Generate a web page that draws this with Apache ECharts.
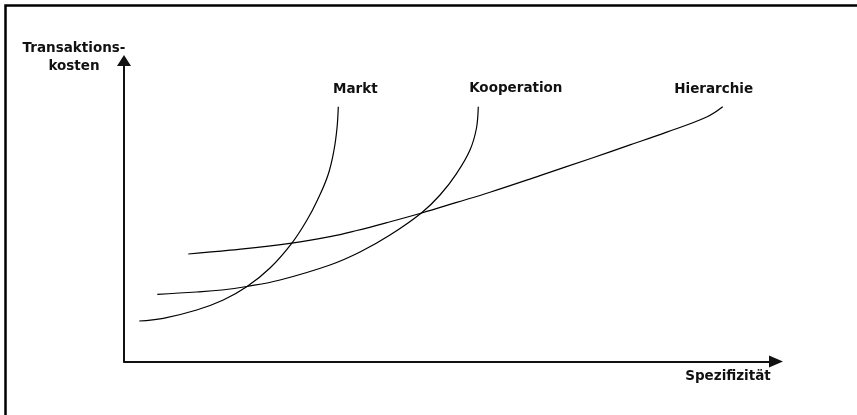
<!DOCTYPE html>
<html>
<head>
<meta charset="utf-8">
<script src="https://cdn.jsdelivr.net/npm/echarts@6/dist/echarts.min.js"></script>
<style>
  html, body { margin: 0; padding: 0; background: #fff; }
  #chart { width: 857px; height: 415px; }
</style>
</head>
<body>
<div id="chart"></div>
<script>
// Series names (curve labels)
const seriesNames = ['Markt', 'Kooperation', 'Hierarchie'];
// Axis titles
const yAxisTitle = 'Transaktions-\nkosten';
const xAxisTitle = 'Spezifizität';

// Curves, in arbitrary units [Spezifizität, Transaktionskosten]
const marktData = [
  [15.3, 40.5], [39.3, 43.2], [72.7, 51.5], [99.3, 61.5], [122.7, 74.7],
  [146, 93.5], [167.7, 118.2], [183, 141.5], [193.5, 161.5], [204, 186.5],
  [210, 211.5], [213, 233.5], [214.3, 254.8]
];
const kooperationData = [
  [33.3, 67.2], [72.7, 69.5], [98, 71.5], [122.7, 75], [156, 81.5],
  [206, 96.5], [236, 109.5], [266, 126.5], [297.7, 148.8], [316, 166.5],
  [332.7, 188.2], [346, 211.5], [352.5, 233.5], [354.3, 254.8]
];
const hierarchieData = [
  [64.3, 107.5], [106, 111.3], [167.7, 118.4], [206, 124.9], [232.7, 131],
  [262.7, 138.8], [297.7, 148.5], [332.7, 159.1], [366, 169.3], [416, 185.9],
  [466, 202.8], [506, 216.6], [542.7, 229.4], [582.7, 244.5], [598.7, 254.7]
];
const xRange = [0, 652];
const yRange = [0, 301];

const allData = [marktData, kooperationData, hierarchieData];
const labelFont = { fontFamily: 'DejaVu Sans', fontWeight: 'bold', fontSize: 13.5, color: '#111' };

const chart = echarts.init(document.getElementById('chart'), null, { renderer: 'canvas' });

const option = {
  animation: false,
  backgroundColor: '#fff',
  grid: { left: 124, right: 81, top: 60.5, bottom: 53.5, containLabel: false },
  xAxis: {
    type: 'value', min: xRange[0], max: xRange[1],
    name: xAxisTitle, nameLocation: 'end', nameGap: -48,
    nameTextStyle: Object.assign({ align: 'center', verticalAlign: 'top', lineHeight: 30 }, labelFont),
    axisLine: { onZero: false, lineStyle: { color: '#111', width: 2 }, symbol: ['none', 'triangle'], symbolSize: [12, 14] },
    axisTick: { show: false }, axisLabel: { show: false }, splitLine: { show: false }
  },
  yAxis: {
    type: 'value', min: yRange[0], max: yRange[1],
    name: yAxisTitle, nameLocation: 'end', nameGap: 3.5,
    nameTextStyle: Object.assign({ align: 'center', verticalAlign: 'middle', lineHeight: 18, padding: [0, 100, 0, 0] }, labelFont),
    axisLine: { onZero: false, lineStyle: { color: '#111', width: 2 }, symbol: ['none', 'triangle'], symbolSize: [14, 11] },
    axisTick: { show: false }, axisLabel: { show: false }, splitLine: { show: false }
  },
  series: seriesNames.map((name, i) => ({
    name: name,
    type: 'line',
    data: allData[i],
    smooth: 0.4,
    showSymbol: false,
    lineStyle: { color: '#000', width: 1.2 },
    silent: true
  })),
  graphic: [{
    type: 'polyline',
    shape: { points: [[5.5, 415], [5.5, 5.5], [857, 5.5]] },
    style: { stroke: '#000', lineWidth: 2.5, fill: null },
    silent: true
  }]
};
chart.setOption(option);

// Curve labels placed relative to each curve's last point
const labelOffsets = [[17, -17.5], [37.5, -18.5], [-9, -17.5]];
const labelGraphics = seriesNames.map((name, i) => {
  const d = allData[i];
  const p = chart.convertToPixel({ gridIndex: 0 }, d[d.length - 1]);
  return {
    type: 'text',
    x: p[0] + labelOffsets[i][0],
    y: p[1] + labelOffsets[i][1],
    style: { text: name, align: 'center', verticalAlign: 'middle',
      font: 'bold 13.5px "DejaVu Sans"', fill: '#111' },
    silent: true
  };
});
chart.setOption({ graphic: option.graphic.concat(labelGraphics) });
</script>
</body>
</html>
